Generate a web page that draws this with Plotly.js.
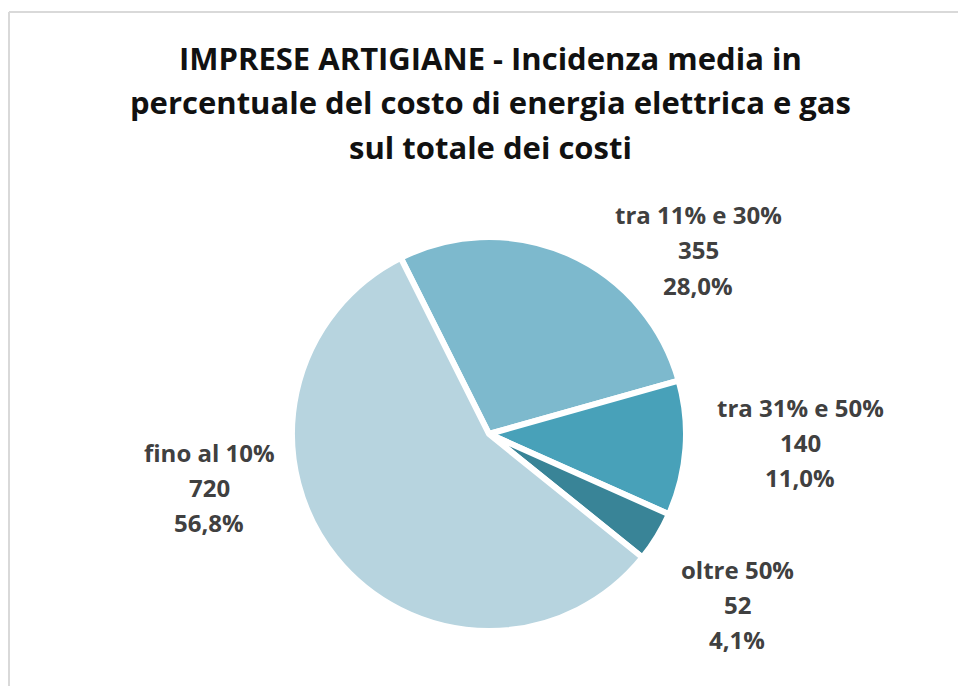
<!DOCTYPE html>
<html>
<head>
<meta charset="utf-8">
<script src="https://cdn.plot.ly/plotly-3.0.1.min.js"></script>
<style>
  html, body { margin: 0; padding: 0; background: #fff; }
  #chart { width: 958px; height: 686px; }
</style>
</head>
<body>
<div id="chart"></div>
<script>
// slice order follows the picture, clockwise from the fino/tra 11% boundary
var labels = ['tra 11% e 30%', 'tra 31% e 50%', 'oltre 50%', 'fino al 10%'];
var counts = [355, 140, 52, 720];
var pctLabels = ['28,0%', '11,0%', '4,1%', '56,8%'];
var colors = ['#7db9cd', '#48a1b9', '#398497', '#b7d4df'];

var titleLines = [
    'IMPRESE ARTIGIANE - Incidenza media in',
    'percentuale del costo di energia elettrica e gas',
    'sul totale dei costi'
];

// label anchor (centre of first line) in pixels
var labelPos = [[698, 215], [800, 407], [737, 569], [209, 452]];

var W = 958, H = 686;
var font = '"Open Sans", Lato, sans-serif';

function px(x) { return x / W; }
function py(y) { return 1 - y / H; }

var data = [{
    type: 'pie',
    labels: labels,
    values: counts,
    sort: false,
    direction: 'clockwise',
    rotation: -26.6,
    textinfo: 'none',
    hoverinfo: 'label+value+percent',
    marker: { colors: colors, line: { color: '#ffffff', width: 6 } },
    domain: { x: [px(292), px(686)], y: [py(631), py(237)] },
    showlegend: false
}];

var annotations = [];
titleLines.forEach(function (t, i) {
    annotations.push({
        text: '<b>' + t + '</b>',
        x: px(490), y: py(58 + i * 44.5),
        xref: 'paper', yref: 'paper',
        xanchor: 'center', yanchor: 'middle',
        showarrow: false,
        font: { family: font, size: 31, color: '#111111' }
    });
});

labels.forEach(function (l, i) {
    var lines = [l, String(counts[i]), pctLabels[i]];
    lines.forEach(function (t, j) {
        annotations.push({
            text: '<b>' + t + '</b>',
            x: px(labelPos[i][0]), y: py(labelPos[i][1] + j * 35),
            xref: 'paper', yref: 'paper',
            xanchor: 'center', yanchor: 'middle',
            showarrow: false,
            font: { family: font, size: 24, color: '#404040' }
        });
    });
});

var layout = {
    width: W,
    height: H,
    margin: { l: 0, r: 0, t: 0, b: 0 },
    paper_bgcolor: '#ffffff',
    annotations: annotations,
    shapes: [
        { type: 'line', xref: 'paper', yref: 'paper', x0: px(9), x1: px(9), y0: py(12), y1: 0,
          line: { color: '#d9d9d9', width: 2 } },
        { type: 'line', xref: 'paper', yref: 'paper', x0: px(9), x1: 1, y0: py(12), y1: py(12),
          line: { color: '#d9d9d9', width: 2 } }
    ]
};

Plotly.newPlot('chart', data, layout, { displayModeBar: false, staticPlot: true });
</script>
</body>
</html>
